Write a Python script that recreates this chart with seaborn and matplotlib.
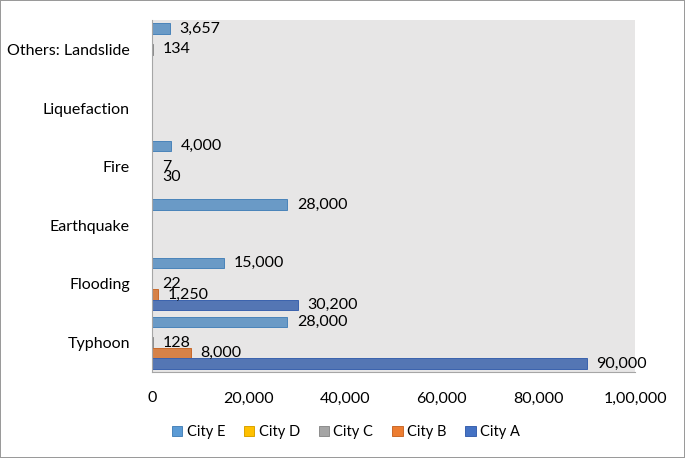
import pandas as pd
import numpy as np
import matplotlib
matplotlib.use('Agg')
import matplotlib.pyplot as plt
from matplotlib.patches import Patch
import seaborn as sns

# hazards, bottom to top as shown on the chart
hazards = ["Typhoon", "Flooding", "Earthquake", "Fire", "Liquefaction", "Others: Landslide"]
city_a = [90000, 30200, np.nan, np.nan, np.nan, np.nan]
city_b = [8000, 1250, np.nan, 30, np.nan, np.nan]
city_c = [128, 22, np.nan, 7, np.nan, 134]
city_d = [np.nan, np.nan, np.nan, np.nan, np.nan, np.nan]
city_e = [28000, 15000, 28000, 4000, np.nan, 3657]

cities = ["City E", "City D", "City C", "City B", "City A"]
palette = {"City A": "#4472C4", "City B": "#ED7D31", "City C": "#A5A5A5",
           "City D": "#FFC000", "City E": "#5B9BD5"}
edges = {"City A": "#3A62AE", "City B": "#C9692A", "City C": "#8C8C8C",
         "City D": "#D9A300", "City E": "#4A84BA"}

xticks = [0, 20000, 40000, 60000, 80000, 100000]
xtick_labels = ["0", "20,000", "40,000", "60,000", "80,000", "1,00,000"]

rows = []
for name, vals in [("City A", city_a), ("City B", city_b), ("City C", city_c),
                   ("City D", city_d), ("City E", city_e)]:
    for h, v in zip(hazards, vals):
        rows.append({"hazard": h, "city": name, "value": v})
df = pd.DataFrame(rows).dropna()

plt.rcParams["font.family"] = ["Lato", "DejaVu Sans"]

fig = plt.figure(figsize=(6.85, 4.58), dpi=100, linewidth=1.2, edgecolor="#9A9A9A")
ax = fig.add_axes([152 / 685, 1 - 372 / 458, (635 - 152) / 685, (372 - 20) / 458])

sns.barplot(data=df, y="hazard", x="value", hue="city", orient="h",
            order=hazards[::-1], hue_order=cities, palette=palette,
            width=0.89, ax=ax, errorbar=None, legend=False)

for cont, name in zip(ax.containers, cities):
    for bar in cont:
        bar.set_edgecolor(edges[name])
        bar.set_linewidth(0.7)
    labels = [f"{v:,.0f}" for v in cont.datavalues]
    ax.bar_label(cont, labels=labels, padding=7, fontsize=11.5, color="black")

ax.set_facecolor("#E7E6E6")
ax.set_xlim(0, 100000)
ax.set_ylim(5.5, -0.5)
ax.set_xticks(xticks)
ax.set_xticklabels(xtick_labels, fontsize=11.5)
ax.tick_params(axis="x", length=0, pad=14)
ax.tick_params(axis="y", length=0, pad=16, labelsize=11.5)
ax.set_xlabel("")
ax.set_ylabel("")
for s in ["top", "right"]:
    ax.spines[s].set_visible(False)
ax.spines["left"].set_color("#A6A6A6")
ax.spines["bottom"].set_color("#A6A6A6")
ax.grid(False)

handles = [Patch(facecolor=palette[c], edgecolor=edges[c], linewidth=0.7) for c in cities]
fig.legend(handles, cities, loc="center", bbox_to_anchor=(0.505, 1 - 432 / 458), ncol=5,
           frameon=False, fontsize=10.5, handlelength=0.7, handleheight=0.7,
           handletextpad=0.3, columnspacing=1.3)

fig.savefig("out.png", dpi=100, edgecolor=fig.get_edgecolor())
